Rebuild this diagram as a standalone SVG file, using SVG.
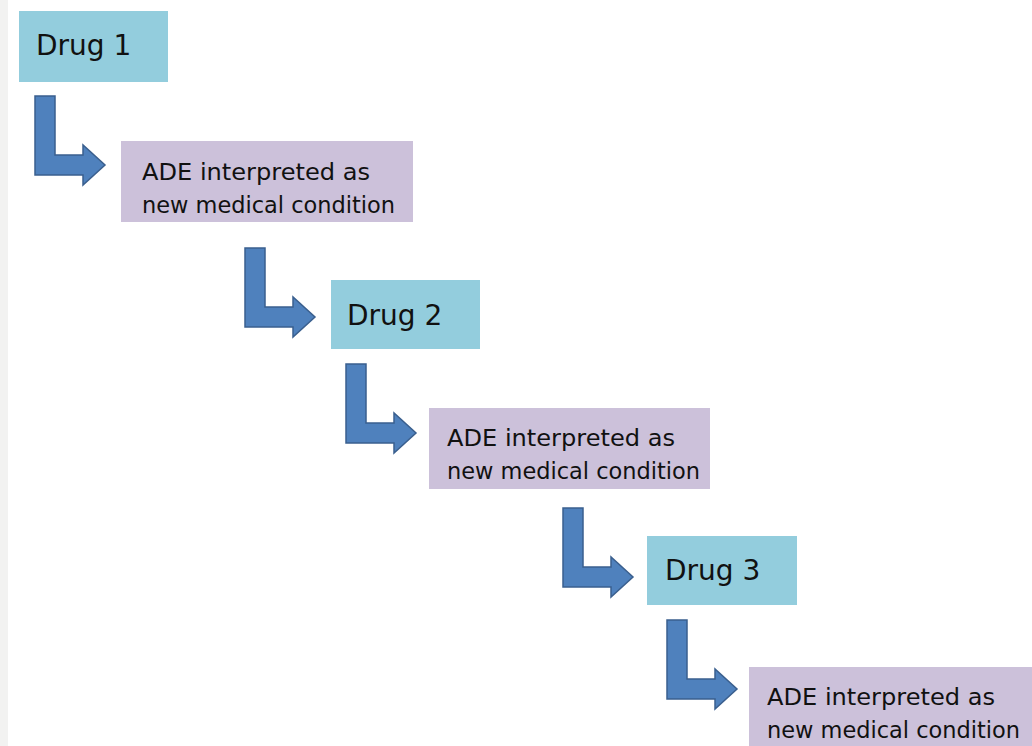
<svg xmlns="http://www.w3.org/2000/svg" xmlns:xlink="http://www.w3.org/1999/xlink" width="1032" height="746" viewBox="0 0 1032 746">
<style>
.drug{fill:#93CDDD}
.ade{fill:#CCC1DA}
.t{font-family:"DejaVu Sans","Liberation Sans",sans-serif;fill:#111}
.td{font-size:28px}
.ta{font-size:23px}
.arr{fill:#4F81BD;stroke:#3A5F8E;stroke-width:1.5;stroke-linejoin:miter}
</style>
<defs>
<path id="bent" d="M0,0 H20 V59 H48 V49 L70,69 L48,89 V79 H0 Z"/>
</defs>
<rect x="0" y="0" width="1032" height="746" fill="#FFFFFF"/>
<rect x="0" y="0" width="8" height="746" fill="#F2F2F1"/>
<g id="connectors">
<use xlink:href="#bent" class="arr" x="35" y="96"/>
<use xlink:href="#bent" class="arr" x="245" y="248"/>
<use xlink:href="#bent" class="arr" x="346" y="364"/>
<use xlink:href="#bent" class="arr" x="563" y="508"/>
<use xlink:href="#bent" class="arr" x="667" y="620"/>
</g>
<g id="drug1">
<rect class="drug" x="19" y="11" width="149" height="71"/>
<text class="t td" x="36" y="55">Drug 1</text>
</g>
<g id="ade1">
<rect class="ade" x="121" y="141" width="292" height="81"/>
<text class="t ta" x="142" y="180" textLength="228" lengthAdjust="spacingAndGlyphs">ADE interpreted as</text>
<text class="t ta" x="142" y="213" textLength="253" lengthAdjust="spacingAndGlyphs">new medical condition</text>
</g>
<g id="drug2">
<rect class="drug" x="331" y="280" width="149" height="69"/>
<text class="t td" x="347" y="325">Drug 2</text>
</g>
<g id="ade2">
<rect class="ade" x="429" y="408" width="281" height="81"/>
<text class="t ta" x="447" y="446" textLength="228" lengthAdjust="spacingAndGlyphs">ADE interpreted as</text>
<text class="t ta" x="447" y="479" textLength="253" lengthAdjust="spacingAndGlyphs">new medical condition</text>
</g>
<g id="drug3">
<rect class="drug" x="647" y="536" width="150" height="69"/>
<text class="t td" x="665" y="580">Drug 3</text>
</g>
<g id="ade3">
<rect class="ade" x="749" y="667" width="290" height="85"/>
<text class="t ta" x="767" y="705" textLength="228" lengthAdjust="spacingAndGlyphs">ADE interpreted as</text>
<text class="t ta" x="767" y="738" textLength="253" lengthAdjust="spacingAndGlyphs">new medical condition</text>
</g>
</svg>
